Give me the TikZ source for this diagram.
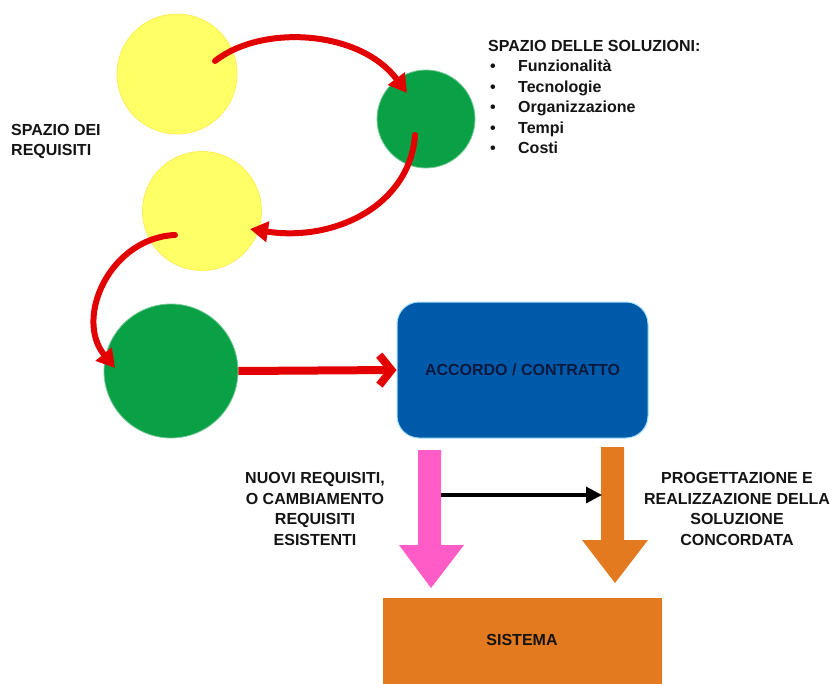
\documentclass[tikz,border=0pt]{standalone}
\usepackage{fontspec}
\setmainfont{Liberation Sans}
\usetikzlibrary{arrows.meta,calc}
\definecolor{sunyellow}{RGB}{255,255,102}
\definecolor{leafgreen}{RGB}{9,160,70}
\definecolor{flowred}{RGB}{226,0,0}
\definecolor{dealblue}{RGB}{0,90,170}
\definecolor{newpink}{RGB}{255,92,200}
\definecolor{buildorange}{RGB}{228,122,32}
\definecolor{inktext}{RGB}{20,20,20}
\definecolor{navytext}{RGB}{10,25,60}
\begin{document}
\begin{tikzpicture}[x=1bp,y=-1bp,
  every node/.style={font=\fontsize{16bp}{20.5bp}\selectfont\bfseries, text=inktext},
  spot/.style={circle, inner sep=0pt, line width=0.8bp},
  yellowspot/.style={spot, fill=sunyellow, draw=sunyellow!85!orange},
  greenspot/.style={spot, fill=leafgreen, draw=leafgreen!55!white},
  loopflow/.style={draw=flowred, line width=6bp, line cap=round, -{Triangle[length=18bp,width=20bp]}},
  pushflow/.style={draw=flowred, line width=8bp, -{Straight Barb[length=12bp,width=30bp]}},
  label/.style={align=center, inner sep=0pt}]
  \useasboundingbox (0,0) rectangle (832,684);
  \fill[white] (0,0) rectangle (832,684);

  % requirement / solution spaces
  \node[yellowspot, minimum size=120bp] (req1) at (177,74) {};
  \node[greenspot, minimum size=98bp] (sol1) at (426,119) {};
  \node[yellowspot, minimum size=119bp] (req2) at (202,211) {};
  \node[greenspot, minimum size=134bp] (sol2) at (171,371) {};

  % agreement and system blocks
  \node[rounded corners=22bp, fill=dealblue, draw=cyan!35, line width=1bp,
        minimum width=251bp, minimum height=136bp, text=navytext] (deal) at (522.5,370) {ACCORDO / CONTRATTO};
  \node[fill=buildorange, minimum width=279bp, minimum height=90bp, inner sep=0pt] (sys) at (522.5,643) {};
  \node[text=inktext] at (522,640) {SISTEMA};

  % iteration between the spaces
  \coordinate (a1) at ($(req1.center)+(38,-13)$);
  \coordinate (b1) at ($(sol1.center)+(-19,-26)$);
  \coordinate (a2) at ($(sol1.center)+(-11,16)$);
  \coordinate (b2) at ($(req2.center)+(48,18)$);
  \coordinate (a3) at ($(req2.center)+(-27,24)$);
  \coordinate (b3) at ($(sol2.center)+(-56,-3)$);
  \draw[loopflow] (a1) .. controls (262,24) and (360,30) .. (b1);
  \draw[loopflow] (a2) .. controls (410,205) and (335,242) .. (b2);
  \draw[loopflow] (a3) .. controls (110,238) and (74,318) .. (b3);
  \draw[pushflow] (sol2.east) -- (deal.west);

  % block arrows down to the system
  \fill[newpink] (418,450) -- (441,450) -- (441,545) -- (464,545) -- (431,588)
                 -- (399,545) -- (418,545) -- cycle;
  \fill[buildorange] (601,447) -- (624,447) -- (624,540) -- (648,540) -- (615,583)
                 -- (582,540) -- (601,540) -- cycle;
  \coordinate (pinkside) at (441,495);
  \coordinate (orangeside) at (602,495);
  \draw[line width=3.2bp, -{Triangle[length=16bp,width=16bp]}] (pinkside) -- (orangeside);

  % texts
  \node[label, align=left, anchor=north west] (reqlabel) at (11,124)
        {SPAZIO DEI\\REQUISITI};
  \node[label, align=left, anchor=north west] (sollabel) at (488,40)
        {SPAZIO DELLE SOLUZIONI:\\
         \makebox[30bp][l]{\hspace{2bp}\textbullet}Funzionalità\\
         \makebox[30bp][l]{\hspace{2bp}\textbullet}Tecnologie\\
         \makebox[30bp][l]{\hspace{2bp}\textbullet}Organizzazione\\
         \makebox[30bp][l]{\hspace{2bp}\textbullet}Tempi\\
         \makebox[30bp][l]{\hspace{2bp}\textbullet}Costi};
  \node[label] (newreq) at (315,509)
        {NUOVI REQUISITI,\\O CAMBIAMENTO\\REQUISITI\\ESISTENTI};
  \node[label] (design) at (737,509)
        {PROGETTAZIONE E\\REALIZZAZIONE DELLA\\SOLUZIONE\\CONCORDATA};
\end{tikzpicture}
\end{document}
